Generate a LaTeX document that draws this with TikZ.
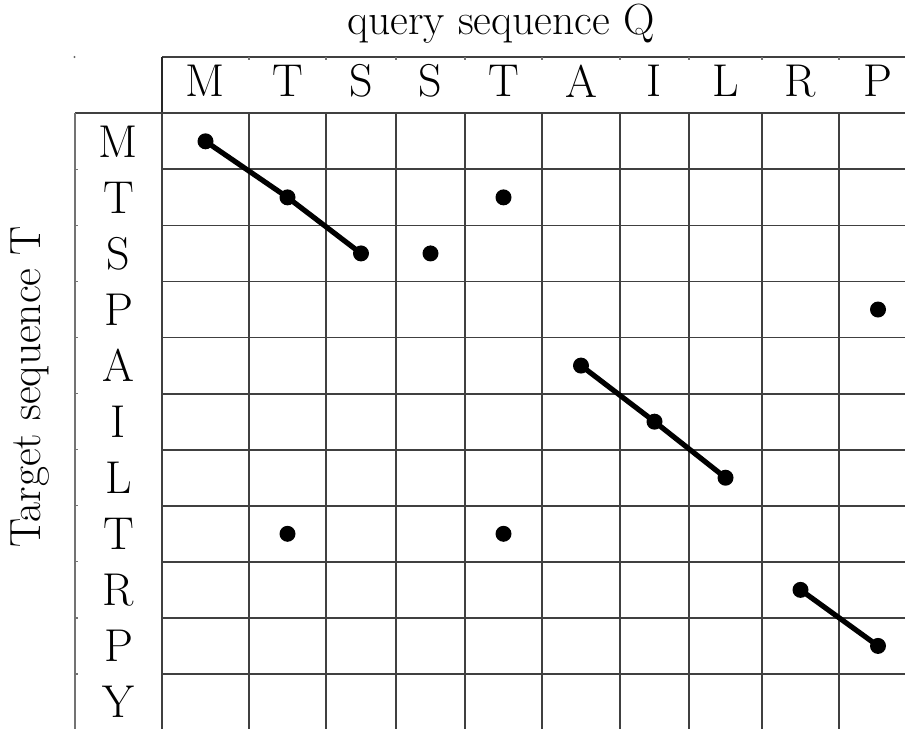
\documentclass[tikz,border=0pt]{standalone}
\usepackage{tikz}
\begin{document}
\begin{tikzpicture}[x=0.5pt,y=-0.5pt,
  gridline/.style={draw=black!75,line width=0.9pt},
  thinline/.style={draw=black!55,line width=0.6pt},
  lettr/.style={font=\fontsize{23}{27}\selectfont,inner sep=0pt,anchor=center},
  axlabel/.style={font=\fontsize{21.8}{26}\selectfont,inner sep=0pt},
  dotn/.style={circle,fill=black,inner sep=0pt,minimum size=8pt},
  matchline/.style={line width=2.6pt,black}]
\useasboundingbox (0,0) rectangle (905,729);
% column boundaries and centres
\def\cols{162,249,326,396,465,542,620,689,762,839,917}
% header frame
\draw[gridline] (162,57) -- (905,57);
\draw[black!85,line width=1.1pt] (162,57) -- (162,113.3);
\foreach \x in {249,326,396,465,542,620,689,762,839}
  \draw[thinline] (\x,57) -- (\x,59.5);
\fill[black!60] (74.5,57) circle (0.6pt);
% row lines
\draw[gridline] (75,113.3) -- (905,113.3);
\foreach \k in {1,...,10}
  \draw[gridline] (162,113.3+56.07*\k) -- (905,113.3+56.07*\k);
\foreach \k in {1,...,10}
  \draw[thinline] (75,113.3+56.07*\k) -- (78,113.3+56.07*\k);
\draw[thinline] (75,113.3) -- (75,729);
% column lines
\foreach \x in {162,249,326,396,465,542,620,689,762,839}
  \draw[gridline] (\x,113.3) -- (\x,729);
% titles
\node[axlabel,anchor=base] (qtitle) at (501,34) {query sequence Q};
\node[axlabel,rotate=90] (ttitle) at (30,387) {Target sequence T};
% column letters
\foreach \c/\x/\n in {M/205.5/1,T/287.5/2,S/361/3,S/430.5/4,T/503.5/5,A/581/6,I/654.5/7,L/725.5/8,R/800.5/9,P/878/10}
  \node[lettr] (col\n) at (\x,81) {\c};
% row letters
\foreach \c/\n in {M/0,T/1,S/2,P/3,A/4,I/5,L/6,T/7,R/8,P/9,Y/10}
  \node[lettr] (row\n) at (118.5,141.3+56.07*\n) {\c};
% dots
\def\ry#1{141.3+56.07*#1}
\node[dotn] (a1) at (205.5,{\ry{0}}) {};
\node[dotn] (a2) at (287.5,{\ry{1}}) {};
\node[dotn] (a3) at (361,{\ry{2}}) {};
\node[dotn] (b1) at (503.5,{\ry{1}}) {};
\node[dotn] (b2) at (430.5,{\ry{2}}) {};
\node[dotn] (b3) at (878,{\ry{3}}) {};
\node[dotn] (c1) at (581,{\ry{4}}) {};
\node[dotn] (c2) at (654.5,{\ry{5}}) {};
\node[dotn] (c3) at (725.5,{\ry{6}}) {};
\node[dotn] (b4) at (287.5,{\ry{7}}) {};
\node[dotn] (b5) at (503.5,{\ry{7}}) {};
\node[dotn] (e1) at (800.5,{\ry{8}}) {};
\node[dotn] (e2) at (878,{\ry{9}}) {};
\draw[matchline] (a1.center) -- (a2.center) -- (a3.center);
\draw[matchline] (c1.center) -- (c2.center) -- (c3.center);
\draw[matchline] (e1.center) -- (e2.center);
\end{tikzpicture}
\end{document}
